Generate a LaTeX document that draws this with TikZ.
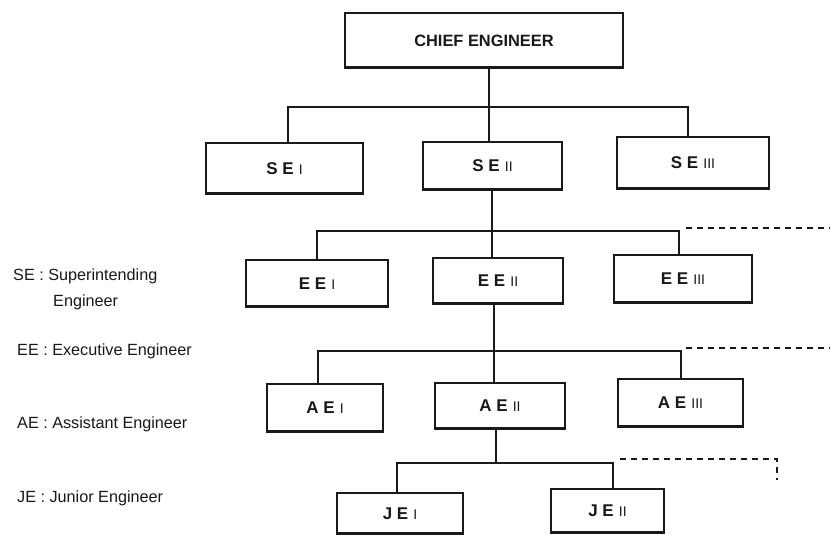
\documentclass[tikz,border=0pt]{standalone}
\usepackage{fontspec}
\setmainfont{Liberation Sans}
\definecolor{ink}{gray}{0.1}
\newcommand\grade[2]{#1\hspace{0.3em}{\mdseries\fontsize{14}{16}\selectfont #2}}
\begin{document}
\begin{tikzpicture}[x=1pt,y={(0pt,-1pt)}]
\tikzset{
  orgbox/.style={draw=ink, line width=1.4pt, inner sep=0pt, text=ink,
                 font=\fontsize{17}{20}\selectfont\bfseries},
  wire/.style={draw=ink, line width=1.4pt},
  lead/.style={draw=ink, line width=1.1pt, dash pattern=on 6pt off 5pt},
  legend/.style={anchor=base west, inner sep=0pt, text=ink,
                 font=\fontsize{16.2}{19}\selectfont},
  baseedge/.style={draw=ink, line width=3pt}
}
\fill[white] (0,0) rectangle (830,535);
\useasboundingbox (0,0) rectangle (830,535);

% boxes
\node[orgbox, minimum width=278pt, minimum height=55pt, font=\fontsize{16.4}{19}\selectfont\bfseries]
  (chief) at (484,40.5) {CHIEF ENGINEER};

\node[orgbox, minimum width=157pt, minimum height=51pt] (se1) at (284.5,168.5) {\grade{S E}{I}};
\node[orgbox, minimum width=139pt, minimum height=48pt] (se2) at (492.5,166)   {\grade{S E}{II}};
\node[orgbox, minimum width=152pt, minimum height=52pt] (se3) at (693,163)     {\grade{S E}{III}};

\node[orgbox, minimum width=142pt, minimum height=47pt] (ee1) at (317,283.5) {\grade{E E}{I}};
\node[orgbox, minimum width=130pt, minimum height=46pt] (ee2) at (498,281)   {\grade{E E}{II}};
\node[orgbox, minimum width=138pt, minimum height=48pt] (ee3) at (683,279)   {\grade{E E}{III}};

\node[orgbox, minimum width=116pt, minimum height=48pt] (ae1) at (325,408)   {\grade{A E}{I}};
\node[orgbox, minimum width=130pt, minimum height=46pt] (ae2) at (500,406)   {\grade{A E}{II}};
\node[orgbox, minimum width=125pt, minimum height=48pt] (ae3) at (680.5,403) {\grade{A E}{III}};

\node[orgbox, minimum width=126pt, minimum height=41pt] (je1) at (400,513.5) {\grade{J E}{I}};
\node[orgbox, minimum width=113pt, minimum height=44pt] (je2) at (607.5,511) {\grade{J E}{II}};

% heavier lower edge on every box
\foreach \b in {chief,se1,se2,se3,ee1,ee2,ee3,ae1,ae2,ae3,je1,je2}
  \draw[baseedge] ([yshift=0.8pt]\b.south west) -- ([yshift=0.8pt]\b.south east);

% chief engineer -> superintending engineers
\coordinate (s0) at (489,107);
\coordinate (sL) at (288,107);
\coordinate (sR) at (688,107);
\draw[wire] (s0 |- chief.south) -- (s0 |- se2.north);
\draw[wire] (sL |- se1.north) -- (sL) -- (sR) -- (sR |- se3.north);

% SE II -> executive engineers
\coordinate (e0) at (492,231);
\coordinate (eL) at (317,231);
\coordinate (eR) at (679,231);
\draw[wire] (e0 |- se2.south) -- (e0 |- ee2.north);
\draw[wire] (eL |- ee1.north) -- (eL) -- (eR) -- (eR |- ee3.north);
\coordinate (eD) at (686,228);
\coordinate (eE) at (830,228);
\draw[lead] (eD) -- (eE);

% EE II -> assistant engineers
\coordinate (a0) at (494,351);
\coordinate (aL) at (318,351);
\coordinate (aR) at (681,351);
\draw[wire] (a0 |- ee2.south) -- (a0 |- ae2.north);
\draw[wire] (aL |- ae1.north) -- (aL) -- (aR) -- (aR |- ae3.north);
\coordinate (aD) at (686,348);
\coordinate (aE) at (830,348);
\draw[lead] (aD) -- (aE);

% AE II -> junior engineers
\coordinate (j0) at (496,463);
\coordinate (jL) at (397,463);
\coordinate (jR) at (613,463);
\draw[wire] (j0 |- ae2.south) -- (j0);
\draw[wire] (jL |- je1.north) -- (jL) -- (jR) -- (jR |- je2.north);
\coordinate (jD) at (620,459);
\coordinate (jC) at (777,459);
\coordinate (jE) at (777,480);
\draw[lead] (jD) -- (jC) -- (jE);

% key to the abbreviations
\node[legend] (kse)  at (13,280) {SE : Superintending};
\node[legend] (kse2) at (53,306) {Engineer};
\node[legend] (kee)  at (17,355) {EE : Executive Engineer};
\node[legend] (kae)  at (17,428) {AE : Assistant Engineer};
\node[legend] (kje)  at (17,502) {JE : Junior Engineer};
\end{tikzpicture}
\end{document}
